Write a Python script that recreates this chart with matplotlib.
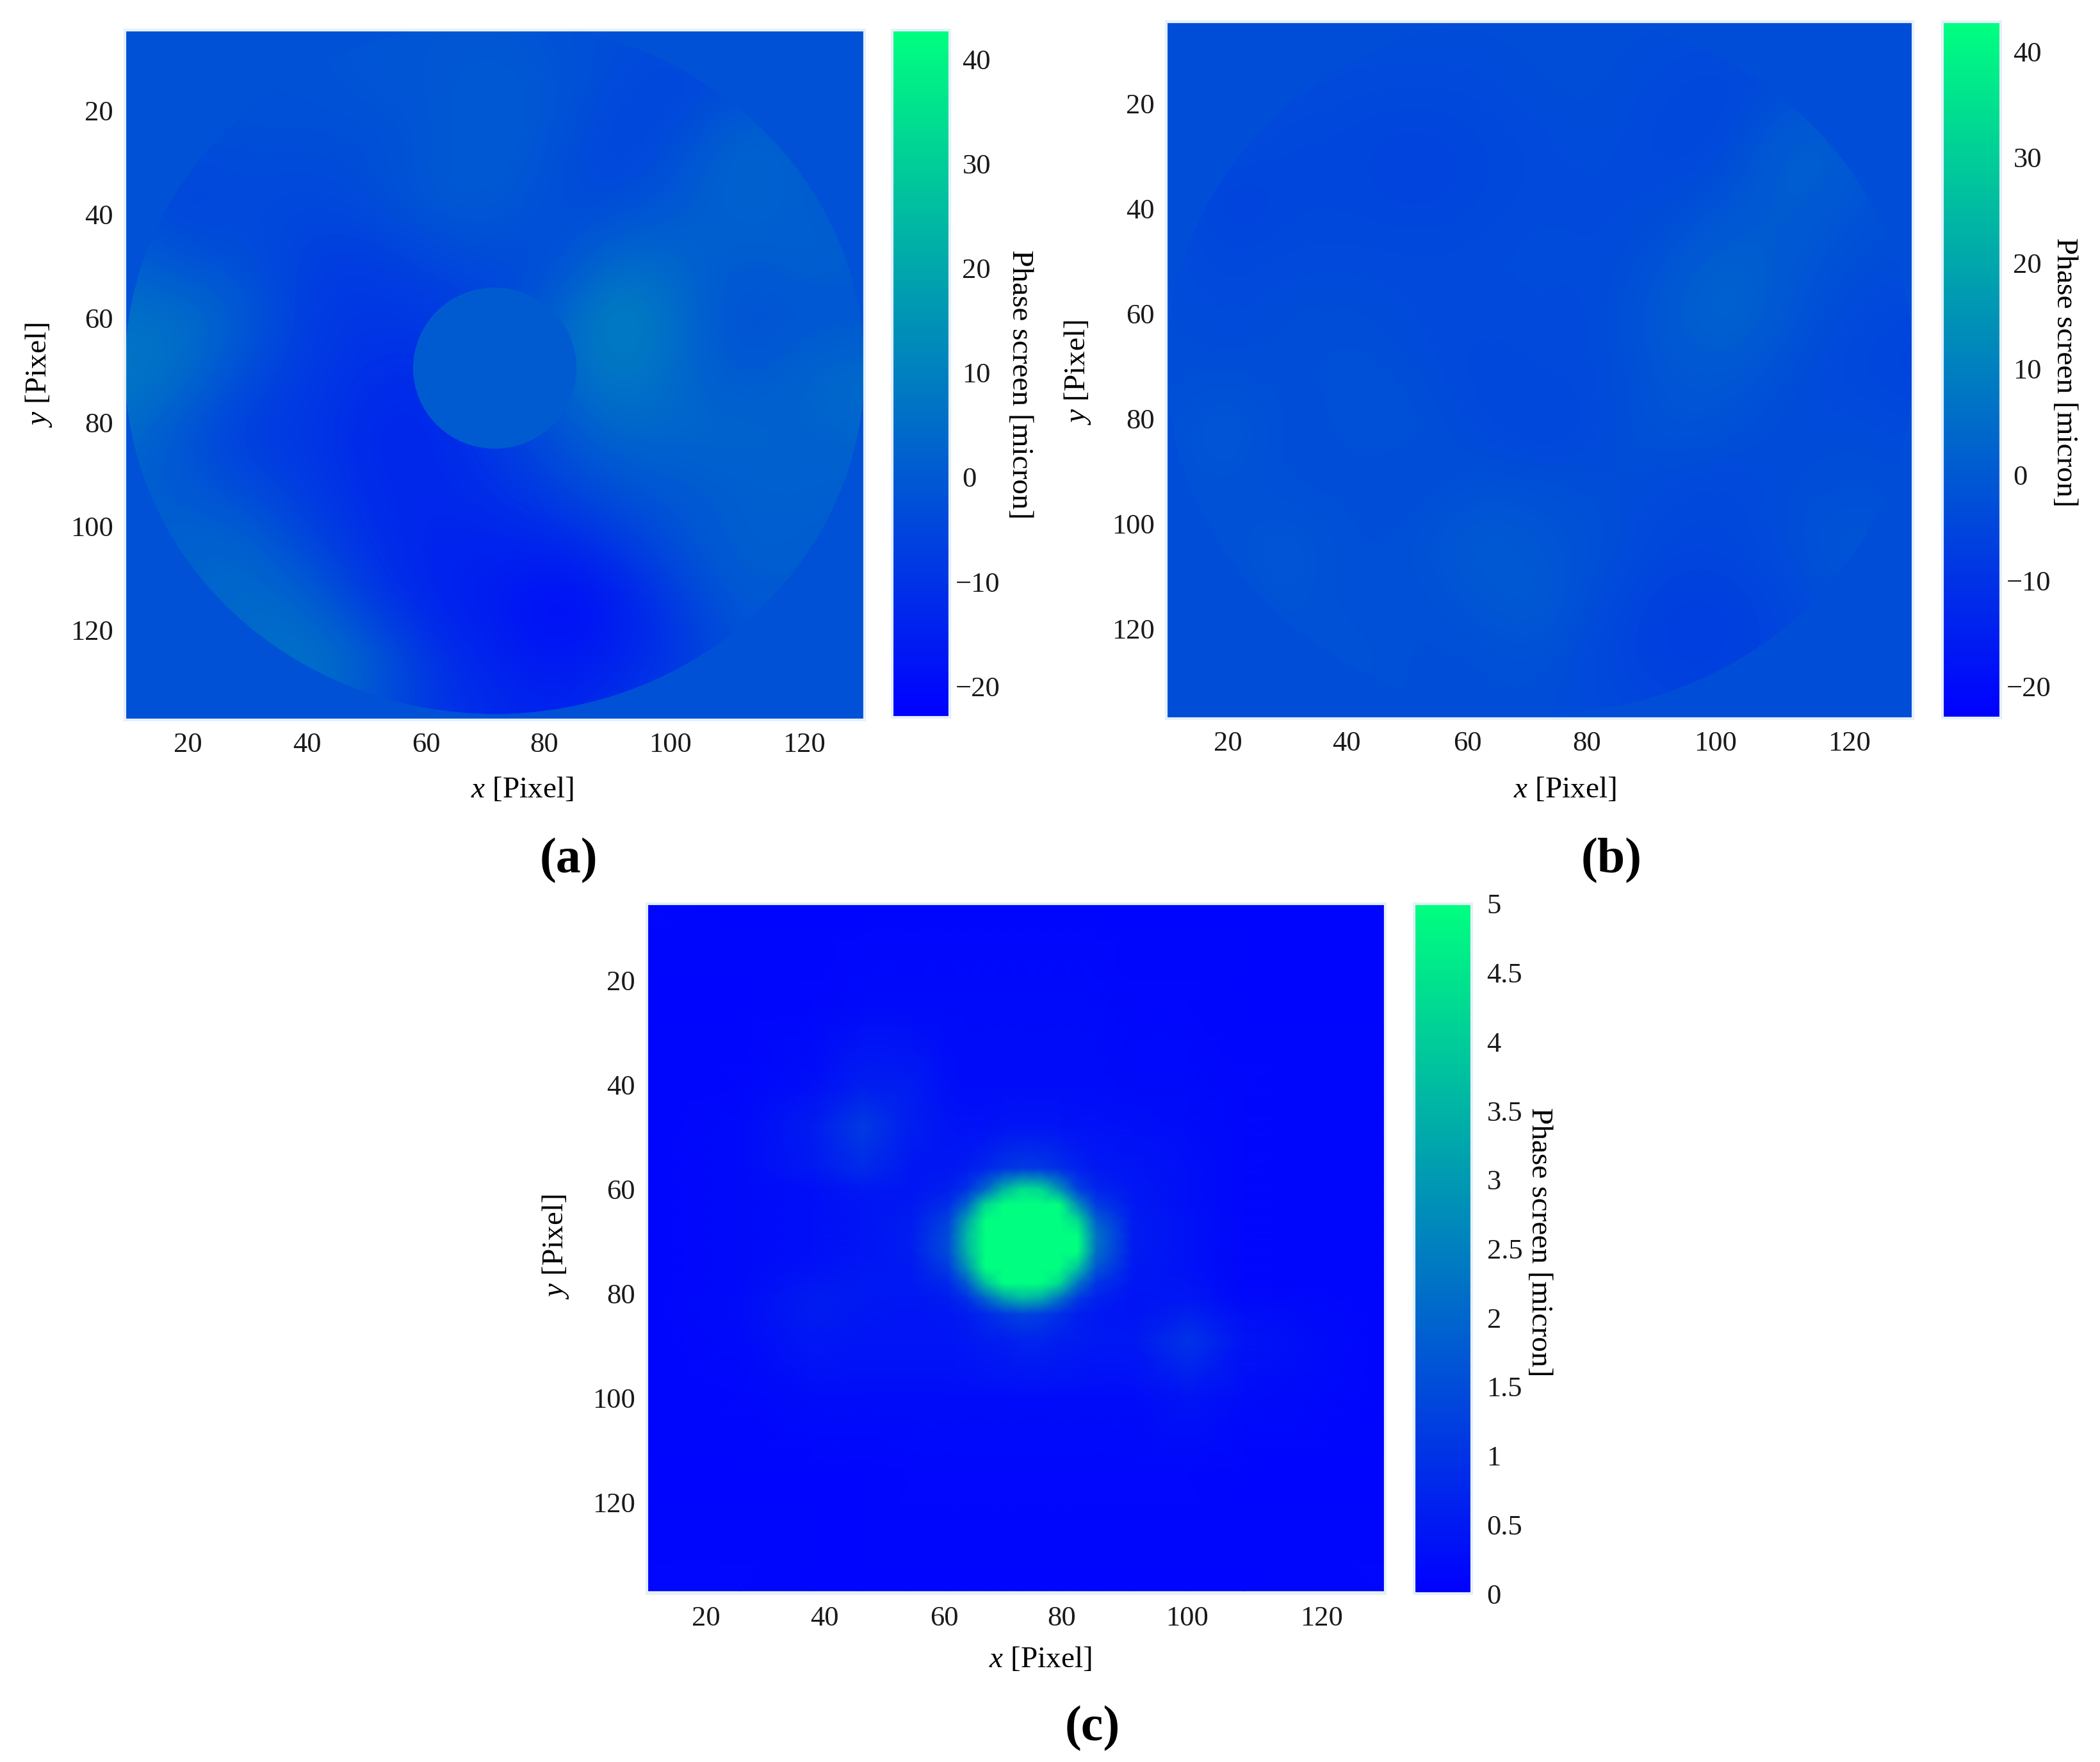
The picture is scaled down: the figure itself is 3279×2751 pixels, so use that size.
import numpy as np
import matplotlib
matplotlib.use("Agg")
import matplotlib.pyplot as plt
from matplotlib.patches import Ellipse
from matplotlib.transforms import ScaledTranslation

plt.rcParams['font.family'] = ['Liberation Serif', 'DejaVu Serif']
plt.rcParams['mathtext.fontset'] = 'custom'
plt.rcParams['mathtext.rm'] = 'Liberation Serif'
plt.rcParams['mathtext.it'] = 'Liberation Serif:italic'

# ---------- data ----------
grid_x = [10, 20, 30, 40, 50, 60, 70, 80, 90, 100, 110, 120, 130]
grid_y = [5, 16, 27, 38, 49, 60, 71, 82, 93, 104, 115, 126, 137]

phase_a = [
    [-2, -2, -2, -2, -1, -1, -1, -2, -3, -3, -3, -3, -3],
    [-2, -3, -2, -2, -1, -1, 1, -1, -4, -6, -3, -2, -2],
    [-2, -3, -3, -3, -3, -1, 1, -2, -6, -3, 4, 1, -2],
    [-3, -6, -4, -5, -3, 0, 0, -3, -4, 0, 3, 1, 0],
    [2, -2, -3, -7, -8, -5, -3, -4, 5, 3, 0, 2, 1],
    [6, 6, 0, -8, -9, -8, -7, 3, 12, 5, -3, -1, -1],
    [8, 5, -4, -8, -11, -12, -7, 3, 9, 4, -1, 3, 5],
    [5, -2, -8, -9, -13, -13, -8, -2, 4, 3, 4, 2, 3],
    [1, 0, -4, -8, -12, -13, -11, -6, -2, 0, 1, 2, 1],
    [0, 3, 3, -5, -11, -14, -14, -14, -9, -2, 2, 1, 0],
    [-1, 2, 5, 3, -8, -14, -16, -21, -17, -7, 0, 0, -1],
    [-2, 1, 4, 8, 2, -10, -14, -17, -14, -9, -3, -2, -2],
    [-2, -2, -2, 3, -2, -9, -12, -14, -10, -5, -2, -2, -2],
]
background_a = -2.0
hole_a = 0.5

phase_b = [
    [-3, -3, -3, -3, -3, -3, -3, -3, -3, -3, -3, -3, -3],
    [-3, -3, -3, -4, -4, -4, -3, -3, -4, -5, -4, -3, -3],
    [-3, -3, -5, -5, -6, -5, -4, -3, -5, -5, 2, 1, -3],
    [-3, -7, -5, -5, -6, -5, -4, -4, -4, -2, 2, -1, -3],
    [-3, -5, -4, -4, -4, -4, -3, -4, -2, 2, 0, -3, -3],
    [-3, -4, -3, -3, -4, -4, -4, -4, 0, 4, -1, -4, -5],
    [-3, -3, -3, -2, -3, -5, -4, -4, -1, 0, -3, -5, -6],
    [-3, 1, -4, -2, -2, -4, -6, -4, -1, -2, -4, -3, -4],
    [-2, -2, -3, -3, -4, -2, -2, -3, -4, -5, -3, -3, -3],
    [-3, -2, 0, -3, -2, 1, -1, -2, -5, -5, -3, 0, -2],
    [-3, -3, -1, -3, -3, -1, 1, -4, -7, -7, -5, -2, -3],
    [-3, -3, -2, -1, -3, -3, -2, -5, -7, -7, -5, -3, -3],
    [-3, -3, -3, -3, -3, -3, -3, -4, -5, -5, -4, -3, -3],
]
background_b = -3.0

c_x = [10, 25, 37, 45, 53, 59, 62, 65, 68, 71, 74, 77, 80, 83, 89, 98, 107, 130]
c_y = [5, 25, 40, 48, 56, 60, 63, 66, 69, 72, 75, 78, 81, 84, 89, 100, 115, 137]
phase_c = [
    [.15, .1, .1, .1, .1, .1, .1, .1, .1, .1, .1, .1, .1, .1, .1, .1, .1, .1],
    [.1, .1, .15, .2, .2, .2, .2, .2, .2, .2, .2, .2, .2, .2, .15, .15, .1, .1],
    [.1, .15, .3, .6, .55, .3, .25, .25, .25, .25, .25, .25, .25, .25, .2, .2, .15, .1],
    [.1, .2, .55, 1.15, .6, .4, .35, .35, .4, .4, .4, .4, .35, .35, .3, .25, .15, .1],
    [.1, .2, .5, .85, .45, .45, .55, .75, 1.0, 1.15, 1.1, .9, .65, .5, .4, .3, .15, .1],
    [.1, .2, .3, .5, .45, .6, 1.0, 2.0, 3.5, 4.4, 4.2, 2.9, 1.3, .75, .45, .3, .15, .1],
    [.1, .2, .3, .4, .5, .9, 2.0, 4.2, 5.7, 6.4, 6.2, 5.0, 2.8, 1.2, .5, .3, .15, .1],
    [.1, .2, .3, .4, .55, 1.3, 3.2, 5.6, 7.1, 7.5, 7.3, 6.3, 4.3, 1.9, .55, .35, .15, .1],
    [.1, .2, .3, .4, .58, 1.5, 3.6, 6.2, 7.6, 8, 7.8, 7, 5.2, 2.3, .55, .35, .15, .1],
    [.1, .2, .3, .4, .58, 1.5, 3.5, 6, 7.5, 7.9, 7.8, 6.9, 5, 2.2, .55, .35, .15, .1],
    [.1, .2, .35, .45, .5, 1.2, 2.9, 5.2, 6.8, 7.2, 7, 6, 3.9, 1.7, .5, .35, .15, .1],
    [.1, .2, .45, .5, .5, .8, 1.8, 3.8, 5.3, 5.9, 5.6, 4.3, 2.3, 1.05, .45, .4, .15, .1],
    [.1, .25, .55, .5, .45, .55, .95, 1.9, 3, 3.6, 3.3, 2.2, 1.1, .65, .4, .45, .2, .1],
    [.1, .25, .55, .45, .4, .45, .55, .8, 1.1, 1.3, 1.2, .9, .6, .5, .4, .65, .3, .1],
    [.1, .2, .45, .4, .4, .4, .45, .55, .6, .7, .7, .6, .55, .5, .5, 1.0, .4, .1],
    [.1, .15, .25, .25, .25, .25, .25, .25, .25, .25, .25, .25, .25, .25, .25, .4, .25, .1],
    [.1, .1, .1, .1, .15, .15, .15, .15, .15, .15, .15, .15, .15, .15, .15, .15, .1, .1],
    [.15, .15, .1, .1, .1, .1, .1, .1, .1, .1, .1, .1, .1, .1, .1, .1, .1, .15],
]

tick_labels_xy = ['20', '40', '60', '80', '100', '120']
ytick_vals = [20, 40, 60, 80, 100, 120]
xtick_a = [20.2, 39.6, 58.9, 78, 98.5, 120.2]
xtick_b = [19.9, 39, 58.4, 77.6, 98.3, 119.8]
xtick_c = [19.6, 38.9, 58.3, 77.4, 97.8, 119.6]
cbar_ticks_ab = [-20, -10, 0, 10, 20, 30, 40]
cbar_labels_ab = ['\u221220', '\u221210', '0', '10', '20', '30', '40']
cbar_ticks_c = [0, .5, 1, 1.5, 2, 2.5, 3, 3.5, 4, 4.5, 5]
cbar_labels_c = ['0', '0.5', '1', '1.5', '2', '2.5', '3', '3.5', '4', '4.5', '5']

# ---------- layout ----------
W, H = 3280, 2751
S = 2.09
FS = 32
fig = plt.figure(figsize=(W / 100, H / 100), dpi=100, facecolor='white')
EDGE = '#e4f0fa'


def add_ax(x0, y0, x1, y1):
    return fig.add_axes([x0 / W, 1 - y1 / H, (x1 - x0) / W, (y1 - y0) / H])


def P(x, y):
    return x * S / W, 1 - y * S / H


def style(ax, xt, ylim, xl, yl):
    ax.set_xlim(10, 130)
    ax.set_ylim(*ylim)
    ax.set_xticks(xt, tick_labels_xy)
    ax.set_yticks(ytick_vals, tick_labels_xy)
    ax.tick_params(length=0, labelsize=FS, pad=13, labelcolor='#1a1a1a')
    ax.tick_params(axis='x', pad=14)
    for s in ax.spines.values():
        s.set_color(EDGE)
        s.set_linewidth(3)
    ax.set_xlabel(r'$\mathit{x}$ [Pixel]', fontsize=FS + 2, va='center')
    ax.set_ylabel(r'$\mathit{y}$ [Pixel]', fontsize=FS + 2, va='center')
    ax.xaxis.set_label_coords(*P(*xl), transform=fig.transFigure)
    ax.yaxis.set_label_coords(*P(*yl), transform=fig.transFigure)


def add_cbar(mappable, box, ticks, labels, lab_xy, pad, neg_shift=0):
    cax = add_ax(*box)
    cb = fig.colorbar(mappable, cax=cax)
    cb.set_ticks(ticks, labels=labels)
    cax.tick_params(length=0, labelsize=FS, pad=pad, labelcolor='#1a1a1a')
    cb.outline.set_edgecolor(EDGE)
    cb.outline.set_linewidth(3)
    if neg_shift:
        for lab in cax.get_yticklabels():
            if lab.get_text().startswith('\u2212'):
                lab.set_transform(lab.get_transform() +
                                  ScaledTranslation(-neg_shift / 100, 0, fig.dpi_scale_trans))
    cb.set_label('Phase screen [micron]', fontsize=FS + 2, rotation=270, va='center', ha='center')
    cax.yaxis.set_label_coords(*P(*lab_xy), transform=fig.transFigure)


def disk_panel(box, cbox, values, background, xt, ylim, xl, yl, cl, hole=None):
    ax = add_ax(*box)
    norm = matplotlib.colors.Normalize(-23, 42.8)
    ext = [5, 135, 142.5, -0.5]
    ax.imshow([[background]], cmap='winter', norm=norm, extent=[10, 130, 140, 0], aspect='auto')
    im = ax.imshow(values, cmap='winter', norm=norm, extent=ext, aspect='auto',
                   interpolation='bicubic')
    im.set_clip_path(Ellipse((70, 69.6), 120, 133, transform=ax.transData))
    if hole is not None:
        hm = ax.imshow([[hole]], cmap='winter', norm=norm, extent=[10, 130, 140, 0], aspect='auto')
        hm.set_clip_path(Ellipse((70, 69.6), 26.5, 31, transform=ax.transData))
    style(ax, xt, ylim, xl, yl)
    add_cbar(im, cbox, cbar_ticks_ab, cbar_labels_ab, cl, 14, neg_shift=11)
    return ax


disk_panel((195, 47, 1350, 1124), (1393, 47, 1483, 1120), phase_a, background_a,
           xtick_a, (137.25, 4.6), (390, 590), (29, 280), (762, 287), hole=hole_a)
disk_panel((1821, 34, 2987, 1122), (3033, 34, 3124, 1121), phase_b, background_b,
           xtick_b, (137.1, 4.5), (1169, 590), (805, 278), (1542, 278))

axc = add_ax(1010, 1411, 2163, 2488)
mc = axc.pcolormesh(c_x, c_y, phase_c, cmap='winter', vmin=0, vmax=5, shading='gouraud')
style(axc, xtick_c, (137.5, 5.3), (777, 1240), (415, 931))
add_cbar(mc, (2208, 1411, 2298, 2488), cbar_ticks_c, cbar_labels_c, (1150, 928), 17)

for txt, x, y in [('(a)', 425, 643), ('(b)', 1204, 643), ('(c)', 816, 1291)]:
    fx, fy = P(x, y)
    fig.text(fx, fy, txt, fontsize=56, fontweight='bold', ha='center', va='center', color='black')

fig.savefig('out.png', dpi=100, facecolor='white')
